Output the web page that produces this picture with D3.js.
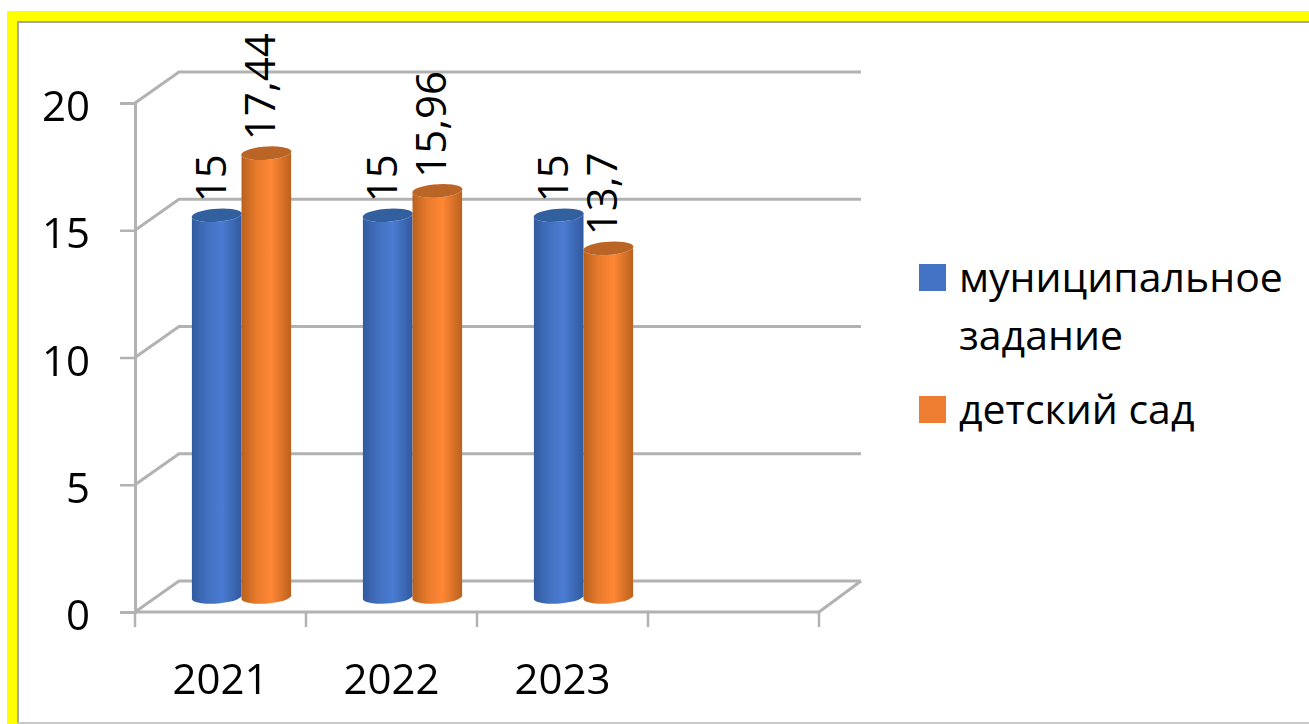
<!DOCTYPE html>
<html lang="ru">
<head>
<meta charset="utf-8">
<title>Chart</title>
<style>
  html, body { margin: 0; padding: 0; background: #fff; }
  svg { display: block; }
  text { font-family: "Open Sans", "Noto Sans", sans-serif; fill: #000; }
</style>
</head>
<body>
<svg width="1309" height="724"></svg>
<script src="https://d3js.org/d3.v7.min.js"></script>
<script>
var categories = ["2021", "2022", "2023", ""];
var seriesNames = ["муниципальное задание", "детский сад"];
var zadanie = [15, 15, 15];
var sad = [17.44, 15.96, 13.7];
var valueLabels = [["15", "15", "15"], ["17,44", "15,96", "13,7"]];
var yTicks = [0, 5, 10, 15, 20];

var svg = d3.select("svg");
var defs = svg.append("defs");

// page frame
svg.append("rect").attr("x", 7).attr("y", 11).attr("width", 1302).attr("height", 713).attr("fill", "#ffff00");
svg.append("rect").attr("x", 17).attr("y", 21).attr("width", 1292).attr("height", 703).attr("fill", "#fff");
svg.append("path").attr("d", "M18,724V22H1309").attr("fill", "none").attr("stroke", "#a6a6a6").attr("stroke-width", 2);
svg.append("path").attr("d", "M17,723H1309").attr("fill", "none").attr("stroke", "#c8c8c8").attr("stroke-width", 2);

// user space region, straight lines have an empty bounding box
var soft = defs.append("filter").attr("id", "soft").attr("filterUnits", "userSpaceOnUse")
    .attr("x", 0).attr("y", 0).attr("width", 1309).attr("height", 724);
soft.append("feGaussianBlur").attr("stdDeviation", 0.7);

// the fake 3d box: front plane, back wall, and the plane the bars stand in
var yFront = d3.scaleLinear().domain([0, 20]).range([612, 103]);
var yBack = d3.scaleLinear().domain([0, 20]).range([581, 72]);
var yBar = d3.scaleLinear().domain([0, 20]).range([597, 88]);
var xFront = d3.scaleBand().domain(categories).range([135, 819]);
var xBar = d3.scaleBand().domain(categories).range([156, 840]);
var xBack = d3.scaleLinear().domain([0, 1]).range([179, 861]);

var grid = svg.append("g").attr("filter", "url(#soft)")
    .attr("fill", "none").attr("stroke", "#b2b2b2").attr("stroke-width", 3);

grid.selectAll(".back").data(yTicks).enter().append("path")
    .attr("d", function(d) {
      return "M" + xFront.range()[0] + "," + yFront(d) + "L" + xBack(0) + "," + yBack(d) + "H" + xBack(1);
    });
grid.append("path")
    .attr("d", "M" + xFront.range()[1] + "," + yFront(0) + "L" + xBack(1) + "," + yBack(0));

var axisY = d3.axisLeft(yFront).tickValues(yTicks).tickSize(15).tickPadding(30);
var gy = svg.append("g").attr("transform", "translate(135,0)").attr("filter", "url(#softY)").call(axisY);
var axisX = d3.axisBottom(xFront).tickSize(0).tickPadding(52);
var gx = svg.append("g").attr("transform", "translate(0,612)").call(axisX);

defs.append("filter").attr("id", "softY").attr("filterUnits", "userSpaceOnUse")
    .attr("x", -135).attr("y", 0).attr("width", 300).attr("height", 724)
  .append("feGaussianBlur").attr("stdDeviation", 0.45);
defs.append("filter").attr("id", "softX").attr("filterUnits", "userSpaceOnUse")
    .attr("x", 0).attr("y", -20).attr("width", 1000).attr("height", 120)
  .append("feGaussianBlur").attr("stdDeviation", 0.45);
gx.attr("filter", "url(#softX)");

// band axis puts ticks in mid band, the chart has them on band edges
var edgeTicks = categories.map(function(c) { return xFront(c); }).concat([xFront.range()[1]]);
gx.append("g").attr("stroke", "#b2b2b2").attr("stroke-width", 2.5)
  .selectAll("line").data(edgeTicks).enter().append("line")
    .attr("x1", function(d) { return d; }).attr("x2", function(d) { return d; })
    .attr("y1", 0).attr("y2", 15);

[gy, gx].forEach(function(g) {
  g.attr("font-family", null).attr("font-size", null);
  g.select(".domain").attr("stroke", "#b2b2b2").attr("stroke-width", 3);
  g.selectAll(".tick line").attr("stroke", "#b2b2b2").attr("stroke-width", 2.5);
  g.selectAll("text").style("font-size", "42px");
});
gy.selectAll("text").attr("dy", "0.42em");
gx.select(".domain").attr("d", "M135,0H819");

function gradient(id, edge, mid) {
  var g = defs.append("linearGradient").attr("id", id);
  g.append("stop").attr("offset", "0%").attr("stop-color", edge);
  g.append("stop").attr("offset", "30%").attr("stop-color", mid[0]);
  g.append("stop").attr("offset", "60%").attr("stop-color", mid[1]);
  g.append("stop").attr("offset", "100%").attr("stop-color", edge);
}
gradient("gradBlue", "#325a9f", ["#4270bf", "#4a7bd2"]);
gradient("gradOrange", "#b9611f", ["#e87a2d", "#ff8734"]);

var bars = [
  {values: zadanie, labels: valueLabels[0], offset: 0, side: "url(#gradBlue)", top: "#33609f"},
  {values: sad, labels: valueLabels[1], offset: 1, side: "url(#gradOrange)", top: "#ba6527"}
];

var barW = xBar.bandwidth() * 0.29;
var rx = barW / 2, ry = 6.5, lean = 2.5;

bars.forEach(function(s) {
  var g = svg.append("g").attr("filter", "url(#soft)");
  var x0 = function(i) { return xBar(categories[i]) + xBar.bandwidth() / 2 - barW + s.offset * barW; };
  var arc = "A" + rx + "," + ry + " -4 0 ";

  g.selectAll("path.side").data(s.values).enter().append("path")
      .attr("class", "side")
      .attr("fill", s.side)
      .attr("d", function(d, i) {
        var l = x0(i), r = l + barW;
        return "M" + l + "," + (yBar(d) + lean) + arc + "0 " + r + "," + (yBar(d) - lean) +
          "V" + (yBar(0) - lean) + arc + "1 " + l + "," + (yBar(0) + lean) + "Z";
      });

  g.selectAll("path.top").data(s.values).enter().append("path")
      .attr("class", "top")
      .attr("fill", s.top)
      .attr("d", function(d, i) {
        var l = x0(i), r = l + barW;
        return "M" + l + "," + (yBar(d) + lean) + arc + "1 " + r + "," + (yBar(d) - lean) +
          arc + "1 " + l + "," + (yBar(d) + lean) + "Z";
      });
});

// value labels go on top of everything
bars.forEach(function(s) {
  svg.append("g").selectAll("text").data(s.values).enter().append("text")
      .style("font-size", "42px")
      .attr("transform", function(d, i) {
        var cx = xBar(categories[i]) + xBar.bandwidth() / 2 - barW + s.offset * barW + barW / 2;
        return "translate(" + (cx + 9) + "," + (yBar(d) - 13) + ") rotate(-90)";
      })
      .text(function(d, i) { return s.labels[i]; });
});

// legend
var legendColors = ["#4472c4", "#ed7d31"];
var legendRows = [["муниципальное", "задание"], ["детский сад"]];
var legendY = d3.scalePoint().domain(seriesNames).range([264, 396]);

var legend = svg.append("g");
legend.selectAll("rect").data(seriesNames).enter().append("rect")
    .attr("x", 919).attr("width", 27).attr("height", 27)
    .attr("y", function(d) { return legendY(d); })
    .attr("fill", function(d, i) { return legendColors[i]; });
legend.selectAll("text").data(seriesNames).enter().append("text")
    .attr("x", 959)
    .attr("y", function(d) { return legendY(d) + 28; })
    .style("font-size", "41px")
    .each(function(d, i) {
      d3.select(this).selectAll("tspan").data(legendRows[i]).enter().append("tspan")
        .attr("x", 959).attr("dy", function(t, j) { return j ? 58 : 0; })
        .text(function(t) { return t; });
    });
</script>
</body>
</html>
